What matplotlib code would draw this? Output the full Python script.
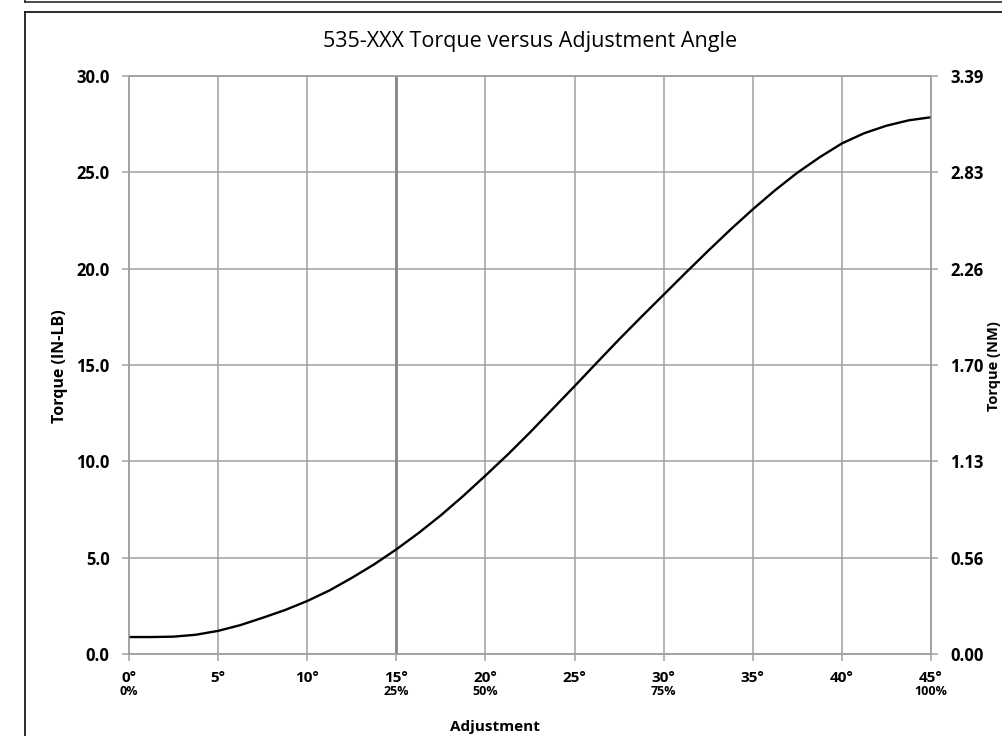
import matplotlib.pyplot as plt
from matplotlib.lines import Line2D

# Torque curve
angle_deg = [0, 1.25, 2.5, 3.75, 5, 6.25, 7.5, 8.75, 10, 11.25, 12.5, 13.75, 15, 16.25, 17.5, 18.75,
             20, 21.25, 22.5, 23.75, 25, 26.25, 27.5, 28.75, 30, 31.25, 32.5, 33.75, 35, 36.25,
             37.5, 38.75, 40, 41.25, 42.5, 43.75, 45]
torque_inlb = [0.88, 0.88, 0.90, 1.0, 1.2, 1.5, 1.88, 2.28, 2.75, 3.3, 3.95, 4.65, 5.43, 6.28, 7.2, 8.2,
               9.26, 10.35, 11.5, 12.7, 13.9, 15.12, 16.33, 17.5, 18.65, 19.8, 20.93, 22.03, 23.08, 24.07,
               24.98, 25.78, 26.5, 27.03, 27.42, 27.7, 27.86]

x_ticks = [0, 5, 10, 15, 20, 25, 30, 35, 40, 45]
x_labels = ['0°', '5°', '10°', '15°', '20°', '25°', '30°', '35°', '40°', '45°']
pct_ticks = [0, 15, 20, 30, 45]
pct_labels = ['0%', '25%', '50%', '75%', '100%']
y_ticks = [0, 5, 10, 15, 20, 25, 30]
nm_labels = ['0.00', '0.56', '1.13', '1.70', '2.26', '2.83', '3.39']

plt.rcParams['font.family'] = ['Open Sans', 'DejaVu Sans']

grid_col = '#a0a0a0'
W, H = 1003, 736

fig = plt.figure(figsize=(W / 100, H / 100), dpi=100)
ax = fig.add_axes([129 / W, 1 - 654 / H, (931 - 129) / W, (654 - 76) / H])

ax.plot(angle_deg, torque_inlb, color='black', lw=1.7, zorder=3, solid_joinstyle='round')
ax.axvline(15, color='#888888', lw=2.0, zorder=2)

ax.set_xlim(0, 45)
ax.set_ylim(0, 30)
ax.set_xticks(x_ticks, x_labels)
ax.set_yticks(y_ticks, ['%.1f' % v for v in y_ticks])
ax.grid(True, color=grid_col, lw=1.1)
ax.set_axisbelow(True)
for s in ax.spines.values():
    s.set_color(grid_col)
    s.set_linewidth(1.1)
ax.tick_params(axis='x', length=5, width=1.1, color=grid_col, pad=7, labelsize=11)
ax.tick_params(axis='y', length=5, width=1.1, color=grid_col, pad=9, labelsize=12)
for t in ax.get_xticklabels() + ax.get_yticklabels():
    t.set_fontweight('bold')

# second row of x labels: percent of travel
sec = ax.secondary_xaxis('bottom')
sec.set_xticks(pct_ticks, pct_labels)
sec.tick_params(length=0, pad=22, labelsize=9)
sec.spines['bottom'].set_visible(False)
for t in sec.get_xticklabels():
    t.set_fontweight('bold')

# right axis in N-m
ax2 = ax.twinx()
ax2.set_ylim(0, 30)
ax2.set_yticks(y_ticks, nm_labels)
for s in ax2.spines.values():
    s.set_color(grid_col)
    s.set_linewidth(1.1)
ax2.tick_params(axis='y', length=5, width=1.1, color=grid_col, pad=9, labelsize=12)
for t in ax2.get_yticklabels():
    t.set_fontweight('bold')

fig.text(530 / W, 1 - 42 / H, '535-XXX Torque versus Adjustment Angle',
         ha='center', va='center', fontsize=15.5)
fig.text(60 / W, 1 - 366 / H, 'Torque (IN-LB)', rotation=90, ha='center', va='center',
         fontsize=11.5, fontweight='bold')
fig.text(994 / W, 1 - 366 / H, 'Torque (NM)', rotation=90, ha='center', va='center',
         fontsize=10.5, fontweight='bold')
fig.text(495 / W, 1 - 727 / H, 'Adjustment', ha='center', va='center',
         fontsize=11, fontweight='bold')

# frame lines around the chart
frame = '#1a1a1a'
fig.add_artist(Line2D([25 / W, 25 / W], [1, 1 - 1.5 / H], color=frame, lw=1.1))
fig.add_artist(Line2D([25 / W, 1.0], [1 - 1.5 / H, 1 - 1.5 / H], color=frame, lw=1.1))
fig.add_artist(Line2D([25 / W, 25 / W], [0, 1 - 12 / H], color=frame, lw=1.3))
fig.add_artist(Line2D([25 / W, 1.0], [1 - 12 / H, 1 - 12 / H], color=frame, lw=1.3))

fig.savefig('out.png', dpi=100)
